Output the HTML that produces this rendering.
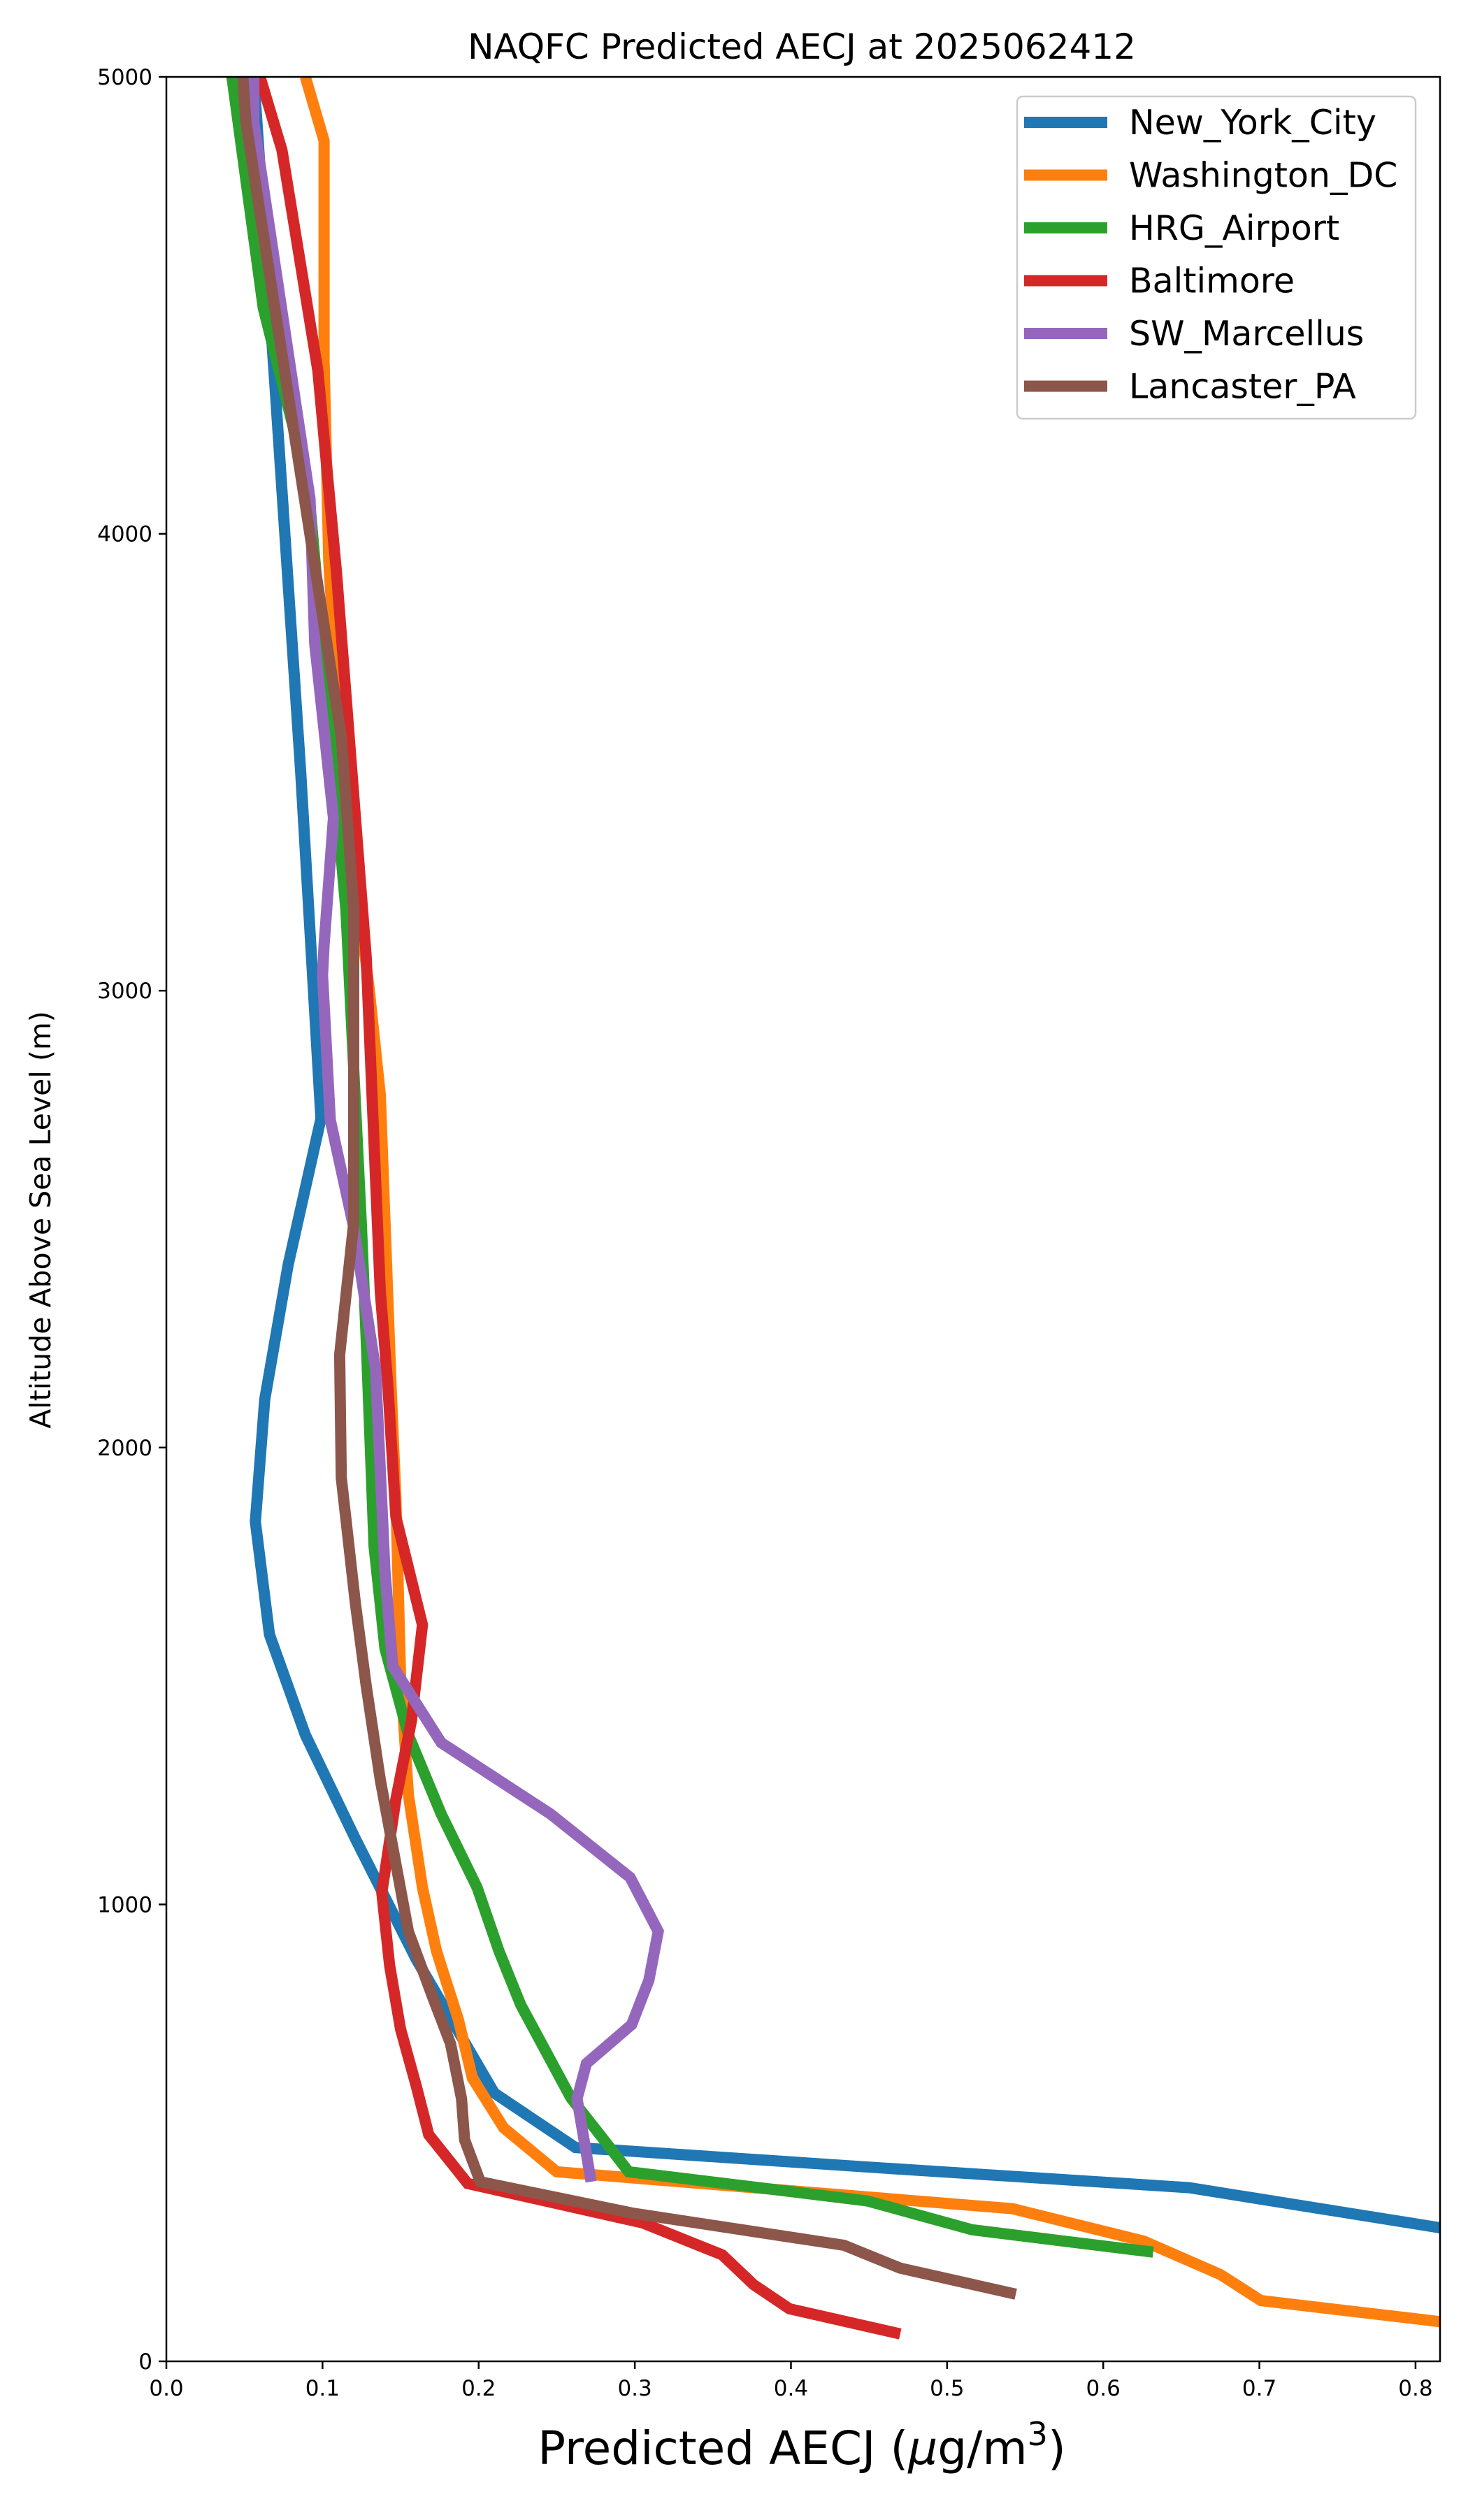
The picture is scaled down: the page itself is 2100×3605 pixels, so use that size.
<!DOCTYPE html>
<html><head><meta charset="utf-8"><style>
html,body{margin:0;padding:0;background:#fff;}
svg text{font-family:"DejaVu Sans","Liberation Sans",sans-serif;}
</style></head><body>
<svg id="chart" xmlns="http://www.w3.org/2000/svg" width="2100" height="3600" viewBox="0 0 2100 3600">
<rect x="0" y="0" width="2100" height="3600" fill="#fff"/>
<text x="1147" y="84" font-size="50" text-anchor="middle">NAQFC Predicted AECJ at 2025062412</text>
<g id="plot"></g>
<g id="axes"></g>
<text x="1147" y="3525" font-size="66" text-anchor="middle">Predicted AECJ (<tspan font-style="italic">μ</tspan>g/m<tspan dy="-27" font-size="46">3</tspan><tspan dy="27">)</tspan></text>
<text x="72" y="1745" font-size="41" text-anchor="middle" transform="rotate(-90 72 1745)">Altitude Above Sea Level (m)</text>
<g id="legend"></g>
</svg>
<script>
const seriesNames = ["New_York_City","Washington_DC","HRG_Airport","Baltimore","SW_Marcellus","Lancaster_PA"];
const seriesColors = ["#1f77b4","#ff7f0e","#2ca02c","#d62728","#9467bd","#8c564b"];
const nycX = [0.056,0.070,0.086,0.099,0.078,0.063,0.057,0.066,0.089,0.121,0.160,0.210,0.262,0.450,0.655,0.820];
const nycY = [5000,4300,3480,2720,2400,2105,1838,1591,1371,1144,880,587,468,425,380,290];
const dcX = [0.089,0.101,0.101,0.104,0.112,0.130,0.137,0.144,0.147,0.150,0.155,0.164,0.173,0.187,0.196,0.216,0.250,0.542,0.626,0.675,0.701,0.820];
const dcY = [5000,4860,4380,3940,3500,3000,2772,2128,1890,1500,1240,1037,898,748,620,511,415,334,263,190,133,85];
const hrgX = [0.042,0.062,0.091,0.115,0.125,0.128,0.133,0.140,0.155,0.176,0.199,0.213,0.227,0.259,0.279,0.296,0.449,0.516,0.632];
const hrgY = [5000,4495,4100,3175,2480,2235,1784,1560,1371,1198,1037,898,780,577,490,415,351,288,239];
const balX = [0.060,0.074,0.097,0.109,0.128,0.137,0.142,0.147,0.164,0.157,0.147,0.138,0.143,0.150,0.160,0.168,0.193,0.305,0.356,0.376,0.399,0.470];
const balY = [5000,4840,4357,3913,3073,2342,2128,1848,1612,1403,1230,1026,866,727,603,496,389,303,233,168,115,60];
const swmX = [0.056,0.056,0.092,0.095,0.107,0.101,0.100,0.105,0.120,0.134,0.140,0.145,0.176,0.246,0.297,0.315,0.309,0.298,0.269,0.263,0.272];
const swmY = [5000,4900,4076,3760,3378,3100,3034,2717,2482,2171,1730,1521,1354,1198,1059,941,834,737,652,575,393];
const lanX = [0.049,0.051,0.112,0.120,0.120,0.120,0.111,0.112,0.121,0.128,0.137,0.155,0.170,0.182,0.189,0.191,0.201,0.299,0.434,0.470,0.544];
const lanY = [5000,4900,3557,3180,2826,2492,2203,1934,1660,1478,1273,941,802,695,575,485,393,324,254,204,147];
const xTicks = [0.0,0.1,0.2,0.3,0.4,0.5,0.6,0.7,0.8];
const xTickLabels = ["0.0","0.1","0.2","0.3","0.4","0.5","0.6","0.7","0.8"];
const yTicks = [0,1000,2000,3000,4000,5000];
const yTickLabels = ["0","1000","2000","3000","4000","5000"];

const NS="http://www.w3.org/2000/svg";
const L=238,R=2060,T=110,B=3378,XMAX=0.8157,YMAX=5000;
function sx(v){return L+(v/XMAX)*(R-L);}
function sy(v){return B-(v/YMAX)*(B-T);}
function mk(tag,attrs,parent){const e=document.createElementNS(NS,tag);for(const k in attrs)e.setAttribute(k,attrs[k]);parent.appendChild(e);return e;}

const defs=mk("defs",{},document.getElementById("chart"));
const cp=mk("clipPath",{id:"clip"},defs);
mk("rect",{x:L,y:T,width:R-L,height:B-T},cp);

const plot=document.getElementById("plot");
plot.setAttribute("clip-path","url(#clip)");
const allX=[nycX,dcX,hrgX,balX,swmX,lanX];
const allY=[nycY,dcY,hrgY,balY,swmY,lanY];
const keys=["new-york-city","washington-dc","hrg-airport","baltimore","sw-marcellus","lancaster-pa"];
for(let s=0;s<6;s++){
  const pts=allX[s].map((v,i)=>sx(v).toFixed(1)+","+sy(allY[s][i]).toFixed(1)).join(" ");
  const pl=mk("polyline",{points:pts,fill:"none",stroke:seriesColors[s],"stroke-width":16,"stroke-linejoin":"miter","stroke-linecap":"butt"},plot);
  
  
}

const axes=document.getElementById("axes");
const frame=mk("rect",{x:L,y:T,width:R-L,height:B-T,fill:"none",stroke:"#000","stroke-width":2.5},axes);


xTicks.forEach((v,i)=>{
  const x=sx(v);
  const tk=mk("line",{x1:x,y1:B,x2:x,y2:B+11,stroke:"#000","stroke-width":2.5},axes);
  
  
  const t=mk("text",{x:x,y:B+49,"font-size":31,"text-anchor":"middle"},axes);
  t.textContent=xTickLabels[i];
  
  
});
yTicks.forEach((v,i)=>{
  const y=sy(v);
  const tk=mk("line",{x1:L-11,y1:y,x2:L,y2:y,stroke:"#000","stroke-width":2.5},axes);
  
  
  const t=mk("text",{x:L-20,y:y+11,"font-size":31,"text-anchor":"end"},axes);
  t.textContent=yTickLabels[i];
  
  
});

const lg=document.getElementById("legend");


mk("rect",{x:1455,y:138,width:570,height:461,rx:8,fill:"#fff",stroke:"#ccc","stroke-width":2.5},lg);
seriesNames.forEach((n,i)=>{
  const y=175+i*75.5;
  const h=mk("line",{x1:1465,y1:y,x2:1584,y2:y,stroke:seriesColors[i],"stroke-width":16},lg);
  
  
  const t=mk("text",{x:1615,y:y+17,"font-size":49},lg);
  t.textContent=n;
  
  
});
</script>
</body></html>
